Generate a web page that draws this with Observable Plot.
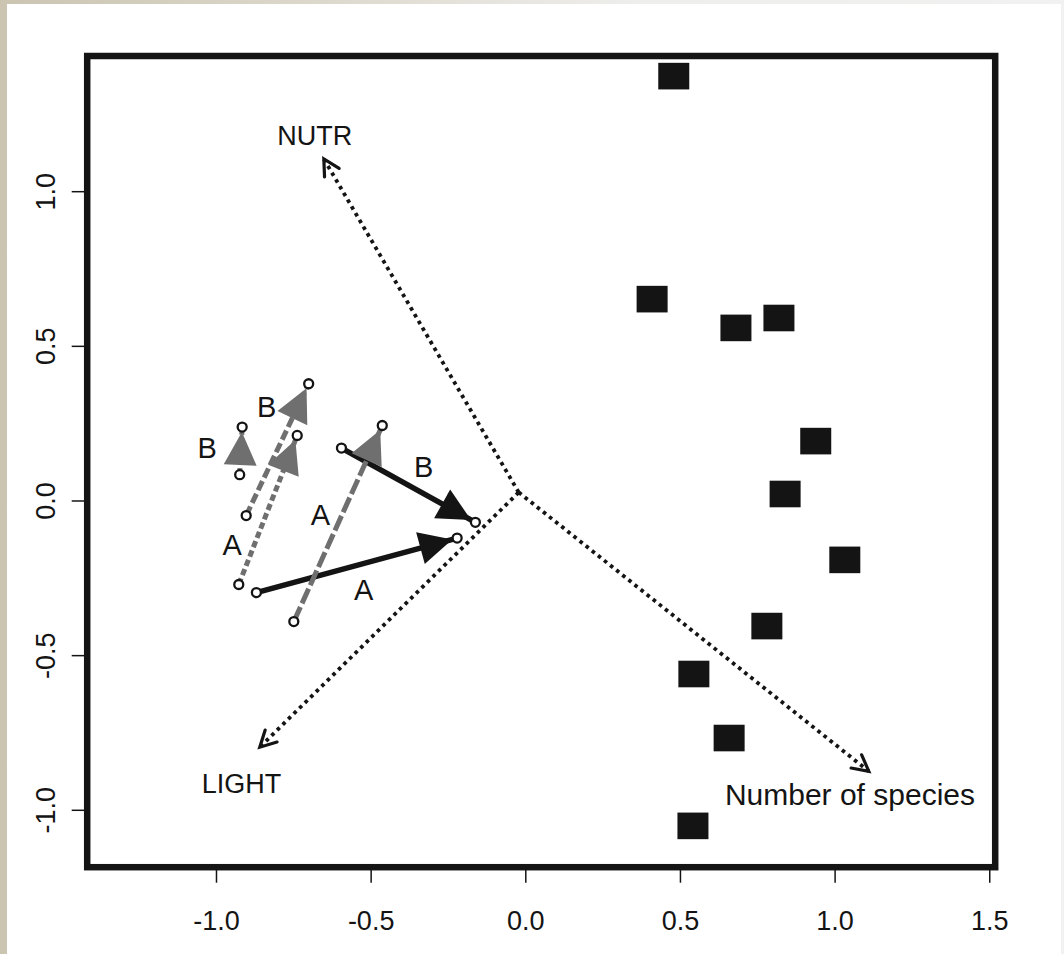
<!DOCTYPE html>
<html>
<head>
<meta charset="utf-8">
<script src="https://cdn.jsdelivr.net/npm/d3@7"></script>
<script src="https://cdn.jsdelivr.net/npm/@observablehq/plot@0.6"></script>
<style>
  html, body { margin: 0; padding: 0; }
  body {
    width: 1064px; height: 954px; overflow: hidden; position: relative;
    background: linear-gradient(90deg, #cbc4b1 0%, #ddd8cc 30%, #eeeeec 60%, #f1f1f1 100%);
    font-family: "Liberation Sans", Arial, sans-serif;
  }
  #panel { position: absolute; left: 7px; top: 4px; width: 1054px; height: 950px; background: #fff; }
  #chart { position: absolute; left: 0; top: 0; }
</style>
</head>
<body>
<div id="panel"></div>
<div id="chart"></div>
<script>
// ---- data ----
const xTicks = [-1.0, -0.5, 0.0, 0.5, 1.0, 1.5];
const yTicks = [-1.0, -0.5, 0.0, 0.5, 1.0];

// species / site scores (filled squares)
const siteX = [0.480, 0.410, 0.681, 0.820, 0.939, 0.840, 1.033, 0.781, 0.545, 0.659, 0.542];
const siteY = [1.372, 0.651, 0.558, 0.590, 0.192, 0.021, -0.192, -0.406, -0.561, -0.768, -1.052];

// environmental vectors (dotted arrows)
const envName = ["NUTR", "LIGHT", "Number of species"];
const envX = [-0.653, -0.860, 1.109];
const envY = [1.106, -0.796, -0.874];
const envLabelX = [-0.682, -0.919, 1.048];
const envLabelY = [1.178, -0.917, -0.952];
const originX = -0.023;
const originY = 0.028;

// trajectories (arrows between two small circles)
const trajId = ["T1", "T2", "T3", "T4", "T5", "T6"];
const trajLabel = ["A", "B", "A", "B", "A", "B"];
const fromX = [-0.871, -0.596, -0.750, -0.904, -0.928, -0.925];
const fromY = [-0.296, 0.171, -0.390, -0.047, -0.270, 0.085];
const toX = [-0.222, -0.163, -0.464, -0.702, -0.739, -0.917];
const toY = [-0.120, -0.069, 0.244, 0.379, 0.212, 0.239];
const labX = [-0.524, -0.330, -0.664, -0.838, -0.949, -1.030];
const labY = [-0.289, 0.109, -0.047, 0.303, -0.144, 0.169];

// ---- styling ----
const INK = "#141414";
const GRAY = "#6f6f6f";
const FONT = "Liberation Sans, Arial, sans-serif";
const lineStyle = {
  T1: {stroke: INK, dash: null, width: 5.5},
  T2: {stroke: INK, dash: null, width: 5.5},
  T3: {stroke: GRAY, dash: "16,4", width: 5},
  T4: {stroke: GRAY, dash: "10,4", width: 5},
  T5: {stroke: GRAY, dash: "6.5,3.5", width: 5},
  T6: {stroke: GRAY, dash: "6.5,3.5", width: 5}
};

// ---- tables built from the arrays ----
const sites = siteX.map((x, i) => ({x, y: siteY[i]}));
const env = envName.map((name, i) => ({name, x1: originX, y1: originY, x2: envX[i], y2: envY[i], lx: envLabelX[i], ly: envLabelY[i]}));
const traj = trajId.map((id, i) => ({id, label: trajLabel[i], x1: fromX[i], y1: fromY[i], x2: toX[i], y2: toY[i], lx: labX[i], ly: labY[i]}));
const ends = traj.flatMap(d => [{x: d.x1, y: d.y1}, {x: d.x2, y: d.y2}]);
const angle = d => Math.atan2(d.x2 - d.x1, d.y2 - d.y1) * 180 / Math.PI;

const PX = 309.3; // pixels per data unit (isotropic)
const halfW = 15.5 / PX, halfH = 13.3 / PX;

const rad = Math.PI / 180;
const openHead = {
  draw(ctx, l) {
    const a = 18 * Math.sin(28 * rad), b = 18 * Math.cos(28 * rad);
    ctx.moveTo(-a, -l + b); ctx.lineTo(0, -l); ctx.lineTo(a, -l + b);
  }
};
const solidHead = {
  draw(ctx, l) {
    ctx.moveTo(0, -l + 5); ctx.lineTo(-16.5, -l + 38); ctx.lineTo(16.5, -l + 38); ctx.closePath();
  }
};

const marks = [
  // environmental dotted vectors
  Plot.link(env, {x1: "x1", y1: "y1", x2: "x2", y2: "y2", stroke: INK, strokeWidth: 3.8, strokeDasharray: "3.6,4.2"}),
  Plot.vector(env, {x: "x2", y: "y2", rotate: angle, length: 18, anchor: "end", shape: openHead, stroke: INK, strokeWidth: 3.2, strokeLinejoin: "miter"}),
  Plot.text(env, {x: "lx", y: "ly", text: "name", fontSize: d => d.name.length > 6 ? 30 : 27, fill: INK}),
  // site squares
  Plot.rect(sites, {x1: d => d.x - halfW, x2: d => d.x + halfW, y1: d => d.y - halfH, y2: d => d.y + halfH, fill: INK})
];

for (const id of trajId) {
  const s = lineStyle[id];
  const data = traj.filter(d => d.id === id);
  marks.push(Plot.link(data, {x1: "x1", y1: "y1", x2: "x2", y2: "y2", stroke: s.stroke, strokeWidth: s.width, strokeDasharray: s.dash ?? undefined}));
  marks.push(Plot.vector(data, {x: "x2", y: "y2", rotate: angle, length: 10, anchor: "end", shape: solidHead, fill: s.stroke, stroke: "none"}));
}

marks.push(
  Plot.dot(ends, {x: "x", y: "y", r: 4.5, stroke: INK, strokeWidth: 2.3, fill: "white"}),
  Plot.text(traj, {x: "lx", y: "ly", text: "label", fontSize: 29, fill: INK}),
  Plot.axisX({ticks: xTicks, tickSize: 16, tickPadding: 28, tickFormat: d => d.toFixed(1), label: null, fontSize: 27, stroke: INK, strokeWidth: 1.5, color: INK}),
  Plot.axisY({ticks: yTicks, tickSize: 15, tickPadding: 17, tickRotate: -90, tickFormat: d => d.toFixed(1), label: null, fontSize: 27, stroke: INK, strokeWidth: 1.5, color: INK}),
  Plot.frame({stroke: INK, strokeWidth: 6.5})
);

const chart = Plot.plot({
  width: 1064,
  height: 954,
  marginLeft: 86.7,
  marginRight: 69.3,
  marginTop: 55.5,
  marginBottom: 87.3,
  style: {background: "transparent", fontFamily: FONT, color: INK, overflow: "visible"},
  x: {domain: [-1.418, 1.5176]},
  y: {domain: [-1.184, 1.4387]},
  marks
});
document.getElementById("chart").appendChild(chart);
</script>
</body>
</html>
